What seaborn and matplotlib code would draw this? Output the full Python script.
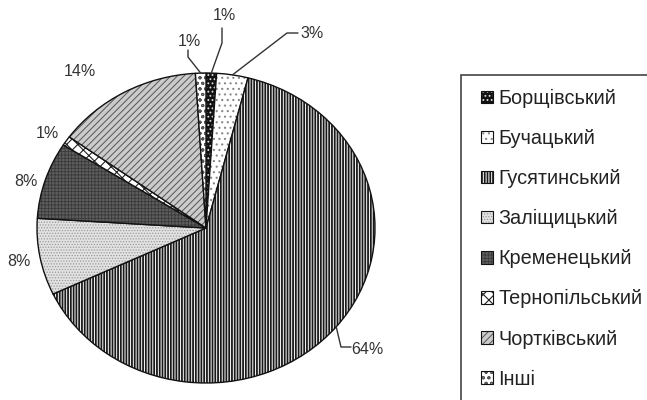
import numpy as np
import matplotlib
matplotlib.use("Agg")
import matplotlib.pyplot as plt
import seaborn as sns
from matplotlib.patches import Patch, Rectangle

categories = ["Борщівський", "Бучацький", "Гусятинський", "Заліщицький",
              "Кременецький", "Тернопільський", "Чортківський", "Інші"]
values = [1, 3, 64, 8, 8, 1, 14, 1]
pct_labels = ["1%", "3%", "64%", "8%", "8%", "1%", "14%", "1%"]

# styles
faces = ["#111111", "white", "white", "#e2e2e2", "#5e5e5e", "white", "#cbcbcb", "white"]
hatches = ["....", "...", "||||||", "......", "+++++", "xxx", "/////", "ooo"]
hatch_cols = ["#dddddd", "#888888", "#1a1a1a", "#9a9a9a", "#3a3a3a", "#222222", "#555555", "#555555"]
hatch_lws = [0.8, 0.8, 1.3, 0.6, 0.6, 0.8, 0.7, 0.7]

sns.set_theme(style="white")
plt.rcParams["font.family"] = ["Liberation Sans", "DejaVu Sans"]
plt.rcParams["hatch.linewidth"] = 0.8

W, H = 647, 400
fig = plt.figure(figsize=(W / 100, H / 100), dpi=100)
fig.patch.set_facecolor("white")

# pie geometry in pixels
cx, cy, rx, ry = 206, 228, 169, 155
xl, yl = 1.25, 1.6
ax = fig.add_axes([(cx - xl * rx) / W, (H - cy - yl * ry) / H, 2 * xl * rx / W, 2 * yl * ry / H])

wedges, _ = ax.pie(values, startangle=90, counterclock=False, radius=1,
                   wedgeprops=dict(edgecolor="#111111", linewidth=1.0))

def style_patch(p, fc, ht, hc, hl):
    p.set_facecolor(fc)
    p.set_hatch(ht)
    p._hatch_color = matplotlib.colors.to_rgba(hc)
    if hasattr(p, "set_hatch_linewidth"):
        p.set_hatch_linewidth(hl)

for w, fc, ht, hc, hl in zip(wedges, faces, hatches, hatch_cols, hatch_lws):
    style_patch(w, fc, ht, hc, hl)
ax.set_aspect("auto")
ax.set_xlim(-xl, xl)
ax.set_ylim(-yl, yl)
ax.axis("off")

def px2d(px, py):
    return ((px - cx) / rx, (cy - py) / ry)

# label layout (pixel positions of text centre, optional elbow points)
label_pos = [(224, 16), (312, 33), (367, 349), (19, 262), (26, 181), (47, 133), (80, 72), (189, 42)]
elbows = [[(222, 43), (222, 28)], [(287, 33), (298, 33)], [(341, 347), (351, 347)],
          None, None, None, None, [(188, 57), (188, 50)]]

total = sum(values)
cum = np.cumsum([0] + values)
for i, w in enumerate(wedges):
    mid = (cum[i] + cum[i + 1]) / 2 / total * 360
    ex, ey = np.sin(np.radians(mid)), np.cos(np.radians(mid))
    tx, ty = px2d(*label_pos[i])
    ax.text(tx, ty, pct_labels[i], ha="center", va="center", fontsize=11.5, color="#333333")
    if elbows[i]:
        pts = [(ex, ey)] + [px2d(*p) for p in elbows[i]]
        xs, ys = zip(*pts)
        ax.plot(xs, ys, color="#333333", lw=1.0, clip_on=False)

# legend
handles = []
for fc, ht, hc, hl in zip(faces, hatches, hatch_cols, hatch_lws):
    p = Patch(linewidth=0.8, edgecolor="#111111")
    style_patch(p, fc, ht, hc, hl)
    handles.append(p)
leg = fig.legend(handles, categories, loc="upper left",
                 bbox_to_anchor=(481 / W, 1 - 89 / H), frameon=False,
                 fontsize=14.3, handlelength=0.58, handleheight=0.58,
                 handletextpad=0.3, labelspacing=1.06, borderpad=0, borderaxespad=0)
for t in leg.get_texts():
    t.set_color("#222222")
for h, fc, ht, hc, hl in zip(leg.legend_handles, faces, hatches, hatch_cols, hatch_lws):
    style_patch(h, fc, ht, hc, hl)

fig.add_artist(Rectangle((461 / W, -0.05), 1.0, (H - 75) / H + 0.05, transform=fig.transFigure,
                         fill=False, edgecolor="#444444", linewidth=1.2))

fig.savefig("out.png", dpi=100)
